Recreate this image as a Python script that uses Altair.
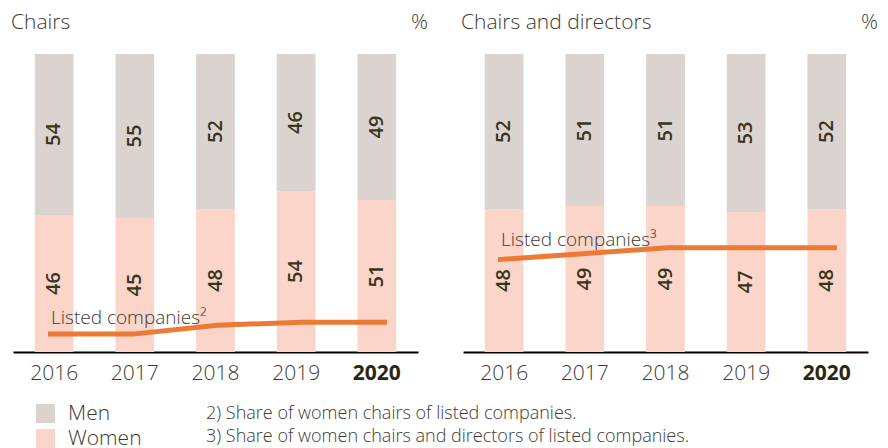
import altair as alt
import pandas as pd

years = ["2016", "2017", "2018", "2019", "2020"]
chairs_men = [54, 55, 52, 46, 49]
chairs_women = [46, 45, 48, 54, 51]
chairs_listed = [6, 6, 9, 10, 10]
cd_men = [52, 51, 51, 53, 52]
cd_women = [48, 49, 49, 47, 48]
cd_listed = [31, 33, 35, 35, 35]
panel_titles = ["Chairs", "Chairs and directors"]
line_labels = ["Listed companies\u00b2", "Listed companies\u00b3"]
genders = ["Men", "Women"]
footnotes = [
    "2) Share of women chairs of listed companies.",
    "3) Share of women chairs and directors of listed companies.",
]

MEN_C = "#dbd3d0"
WOMEN_C = "#fbd5c9"
LINE_C = "#ec7a35"
TXT_C = "#3c3a33"
LBL_C = "#39351c"
FONT = "Open Sans"
W, H = 405, 298

xscale = alt.Scale(domain=years, paddingInner=0.52, paddingOuter=0.27)
yscale = alt.Scale(domain=[0, 100], nice=False)
# line drawn on its own numeric year scale, a little wider than the bar centres
line_xscale = alt.Scale(domain=[2015.587, 2020.366], nice=False, zero=False)


def panel(men, women, listed, title, line_label, label_dy, with_notes):
    rows = []
    for i, y in enumerate(years):
        rows.append({"year": y, "gender": "Women", "value": women[i], "ord": 0})
        rows.append({"year": y, "gender": "Men", "value": men[i], "ord": 1})
    bars_df = pd.DataFrame(rows)
    line_df = pd.DataFrame({"yr": [int(y) for y in years], "listed": listed})

    base = alt.Chart(bars_df).transform_stack(
        stack="value", groupby=["year"], as_=["v0", "v1"],
        sort=[alt.SortField("ord", order="ascending")]
    ).transform_calculate(mid="(datum.v0 + datum.v1) / 2")

    x_enc = alt.X(
        "year:N", scale=xscale, sort=years, title=None,
        axis=alt.Axis(
            labelAngle=0, ticks=False, domainColor="black", domainWidth=2,
            labelFontSize=21, labelFont=FONT, labelPadding=10,
            labelFontWeight={"condition": {"test": "datum.value == '2020'", "value": "bold"}, "value": 300},
            labelColor={"condition": {"test": "datum.value == '2020'", "value": "#2a2612"}, "value": TXT_C},
        ),
    )

    bars = base.mark_bar(strokeWidth=0).encode(
        x=x_enc,
        y=alt.Y("v0:Q", scale=yscale, axis=None),
        y2="v1:Q",
        color=alt.Color(
            "gender:N",
            scale=alt.Scale(domain=genders, range=[MEN_C, WOMEN_C]),
            legend=alt.Legend(
                orient="none", legendX=22, legendY=349, title=None,
                symbolType="square", symbolSize=361, symbolStrokeWidth=0,
                labelFontSize=21, labelFont=FONT, labelFontWeight=300, labelColor=TXT_C,
                labelOffset=12, rowPadding=3,
            ),
        ),
    )
    labels = base.mark_text(
        angle=270, fontSize=20, font=FONT, fontWeight=600, color=LBL_C,
        align="center", baseline="middle",
    ).encode(
        x=alt.X("year:N", scale=xscale, sort=years),
        y=alt.Y("mid:Q", scale=yscale),
        text="value:Q",
    )
    bar_layer = alt.layer(bars, labels)

    line = alt.Chart(line_df).mark_line(color=LINE_C, strokeWidth=5).encode(
        x=alt.X("yr:Q", scale=line_xscale, axis=None),
        y=alt.Y("listed:Q", scale=yscale),
    )
    line_text = alt.Chart(line_df).transform_filter(
        f"datum.yr == {years[0]}"
    ).mark_text(
        align="left", baseline="middle", dx=3, dy=label_dy, fontSize=19,
        font=FONT, fontWeight=300, color=TXT_C,
    ).encode(
        x=alt.X("yr:Q", scale=line_xscale, axis=None),
        y=alt.Y("listed:Q", scale=yscale),
        text=alt.value(line_label),
    )
    line_layer = alt.layer(line, line_text)

    head_df = pd.DataFrame({"t": [title]})
    head = alt.Chart(head_df).mark_text(
        align="left", baseline="middle", fontSize=21, font=FONT, fontWeight=300, color=TXT_C,
    ).encode(x=alt.value(-2), y=alt.value(-31), text="t:N")
    pct = alt.Chart(head_df).mark_text(
        align="right", baseline="middle", fontSize=21, font=FONT, fontWeight=300, color=TXT_C,
    ).encode(x=alt.value(W + 10), y=alt.value(-31), text=alt.value("%"))

    layers = [bar_layer, line_layer, head, pct]
    if with_notes:
        notes = alt.Chart(head_df).mark_text(
            align="left", baseline="top", fontSize=18, font=FONT, fontWeight=300,
            color=TXT_C, lineHeight=23,
        ).encode(x=alt.value(193), y=alt.value(351), text=alt.value(footnotes))
        layers.append(notes)
    return alt.layer(*layers).resolve_scale(x="independent").properties(width=W, height=H)


left = panel(chairs_men, chairs_women, chairs_listed, panel_titles[0], line_labels[0], -16, True)
right = panel(cd_men, cd_women, cd_listed, panel_titles[1], line_labels[1], -20, False)

chart = alt.hconcat(left, right, spacing=45, bounds="flush").properties(
    padding={"left": 3, "top": 4, "right": 0, "bottom": 0}
).configure_view(stroke=None)

chart.save("out.html", embed_options={"renderer": "svg", "actions": False})
